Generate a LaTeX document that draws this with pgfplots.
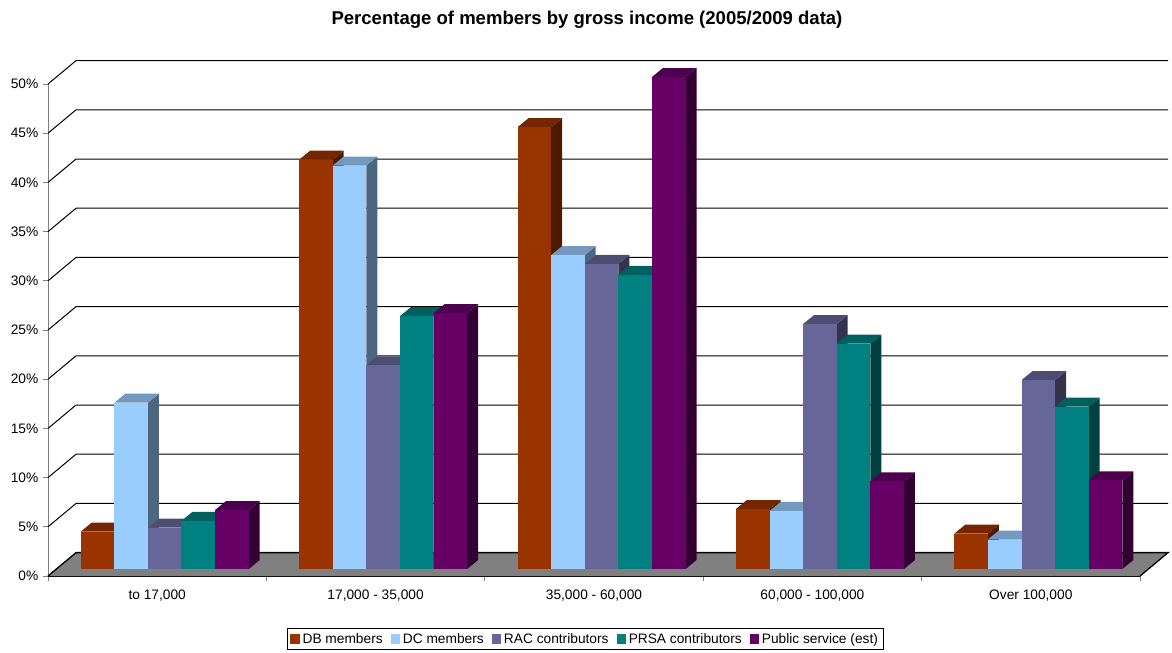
\documentclass[border=0pt]{standalone}
\usepackage{pgfplots}
\pgfplotsset{compat=1.18}
\usepackage{pgfplotstable}
\usepackage{fontspec}
\setmainfont{Liberation Sans}

\definecolor{DBcol}{HTML}{993300}\definecolor{DBtop}{HTML}{732600}\definecolor{DBside}{HTML}{4D1A00}
\definecolor{DCcol}{HTML}{99CCFF}\definecolor{DCtop}{HTML}{7399BF}\definecolor{DCside}{HTML}{4D6680}
\definecolor{RACcol}{HTML}{666699}\definecolor{RACtop}{HTML}{4D4D73}\definecolor{RACside}{HTML}{33334D}
\definecolor{PRSAcol}{HTML}{008080}\definecolor{PRSAtop}{HTML}{006060}\definecolor{PRSAside}{HTML}{004040}
\definecolor{PScol}{HTML}{660066}\definecolor{PStop}{HTML}{4D004D}\definecolor{PSside}{HTML}{330033}
\definecolor{floorgray}{HTML}{808080}

% 3D bar drawn at its data point (top centre of the front face, front plane)
\newcommand\declarebarmark[1]{%
  \pgfdeclareplotmark{bar#1}{%
    \pgfmathsetmacro\yb{5.25-\val*7.38}%
    \pgfmathsetmacro\ybb{12-\val*7.38}%
    \pgfsetfillcolor{#1side}%
    \pgfpathmoveto{\pgfpoint{18.225pt}{5.25pt}}%
    \pgfpathlineto{\pgfpoint{26.475pt}{12pt}}%
    \pgfpathlineto{\pgfpoint{26.475pt}{\ybb pt}}%
    \pgfpathlineto{\pgfpoint{18.225pt}{\yb pt}}%
    \pgfpathclose
    \pgfusepath{fill}%
    \pgfsetfillcolor{#1top}%
    \pgfpathmoveto{\pgfpoint{-6.975pt}{5.25pt}}%
    \pgfpathlineto{\pgfpoint{18.225pt}{5.25pt}}%
    \pgfpathlineto{\pgfpoint{26.475pt}{12pt}}%
    \pgfpathlineto{\pgfpoint{1.275pt}{12pt}}%
    \pgfpathclose
    \pgfusepath{fill}%
    \pgfsetfillcolor{#1col}%
    \pgfpathrectanglecorners{\pgfpoint{-6.975pt}{\yb pt}}{\pgfpoint{18.225pt}{5.25pt}}%
    \pgfusepath{fill}%
  }%
}
\declarebarmark{DB}\declarebarmark{DC}\declarebarmark{RAC}\declarebarmark{PRSA}\declarebarmark{PS}

\pgfplotstableread{
cat DB   DC   RAC  PRSA PS
0   3.8  16.9 4.2  4.9  6.0
1   41.6 41.0 20.7 25.7 26.0
2   44.9 31.9 31.0 29.9 50.0
3   6.1  5.9  24.9 22.9 8.9
4   3.6  3.0  19.2 16.5 9.0
}\datatable

\pgfplotsset{
  bar3d/.style={scatter, only marks, mark=bar#1,
    visualization depends on={rawy \as \val},
    scatter/@pre marker code/.code={}, scatter/@post marker code/.code={},
    legend image code/.code={\fill[#1col] (0pt,-3.2pt) rectangle (6.4pt,3.2pt);}},
}

\begin{document}
\begin{tikzpicture}
\begin{axis}[
  x=163.8pt, y=7.38pt,
  xmin=-0.5, xmax=4.5, ymin=0, ymax=50,
  clip=false,
  axis x line*=bottom, axis y line*=left,
  x axis line style={black, line width=1.1pt, -},
  y axis line style={floorgray, line width=0.75pt, -},
  tick align=outside,
  major tick length=3.75pt,
  tick style={floorgray, line width=0.75pt},
  ytick={0,5,...,50},
  yticklabels={0\%,5\%,10\%,15\%,20\%,25\%,30\%,35\%,40\%,45\%,50\%},
  xtick={-0.5,0.5,...,4.5},
  xticklabels={,,,,,},
  extra x ticks={0,1,2,3,4},
  extra x tick labels={{to 17,000},{17,000 - 35,000},{35,000 - 60,000},{60,000 - 100,000},{Over 100,000}},
  extra x tick style={major tick length=0pt, tick style={draw=none}},
  tick label style={font=\fontsize{10.3}{12}\selectfont, text=black},
  xticklabel style={yshift=-7pt},
  legend columns=5,
  legend style={at={(axis description cs:0.4922,-0.1282)}, anchor=center,
    draw=black, line width=0.75pt, font=\fontsize{10.3}{12}\selectfont,
    inner xsep=2pt, inner ysep=1.5pt,
    /tikz/every even column/.append style={column sep=4pt}},
  legend cell align=left,
]
% invisible frame: fixes the picture size
\path (axis cs:-0.7198,-7.724) rectangle (axis cs:4.6465,58.54);
% floor
\fill[floorgray] (axis cs:-0.5,0) -- (axis cs:4.5,0) -- (axis cs:4.6282,2.378) -- (axis cs:-0.3718,2.378) -- cycle;
\draw[black, line width=1pt] (axis cs:-0.5,0) -- (axis cs:-0.3718,2.378) -- (axis cs:4.6282,2.378) -- (axis cs:4.5,0);
% back wall gridlines
\pgfplotsinvokeforeach{5,10,...,50}{
  \draw[black, line width=0.75pt] (axis cs:-0.5,#1) -- (axis cs:-0.3718,#1+2.378) -- (axis cs:4.6282,#1+2.378);
}
\node[font=\bfseries\fontsize{13.9}{16}\selectfont] at (axis cs:1.968,56.55) {Percentage of members by gross income (2005/2009 data)};

\addplot[bar3d=DB]   table[x expr=\thisrow{cat}-0.3077, y=DB]   {\datatable};
\addplot[bar3d=DC]   table[x expr=\thisrow{cat}-0.1538, y=DC]   {\datatable};
\addplot[bar3d=RAC]  table[x expr=\thisrow{cat},        y=RAC]  {\datatable};
\addplot[bar3d=PRSA] table[x expr=\thisrow{cat}+0.1538, y=PRSA] {\datatable};
\addplot[bar3d=PS]   table[x expr=\thisrow{cat}+0.3077, y=PS]   {\datatable};
\legend{DB members, DC members, RAC contributors, PRSA contributors, Public service (est)}
\end{axis}
\end{tikzpicture}
\end{document}
